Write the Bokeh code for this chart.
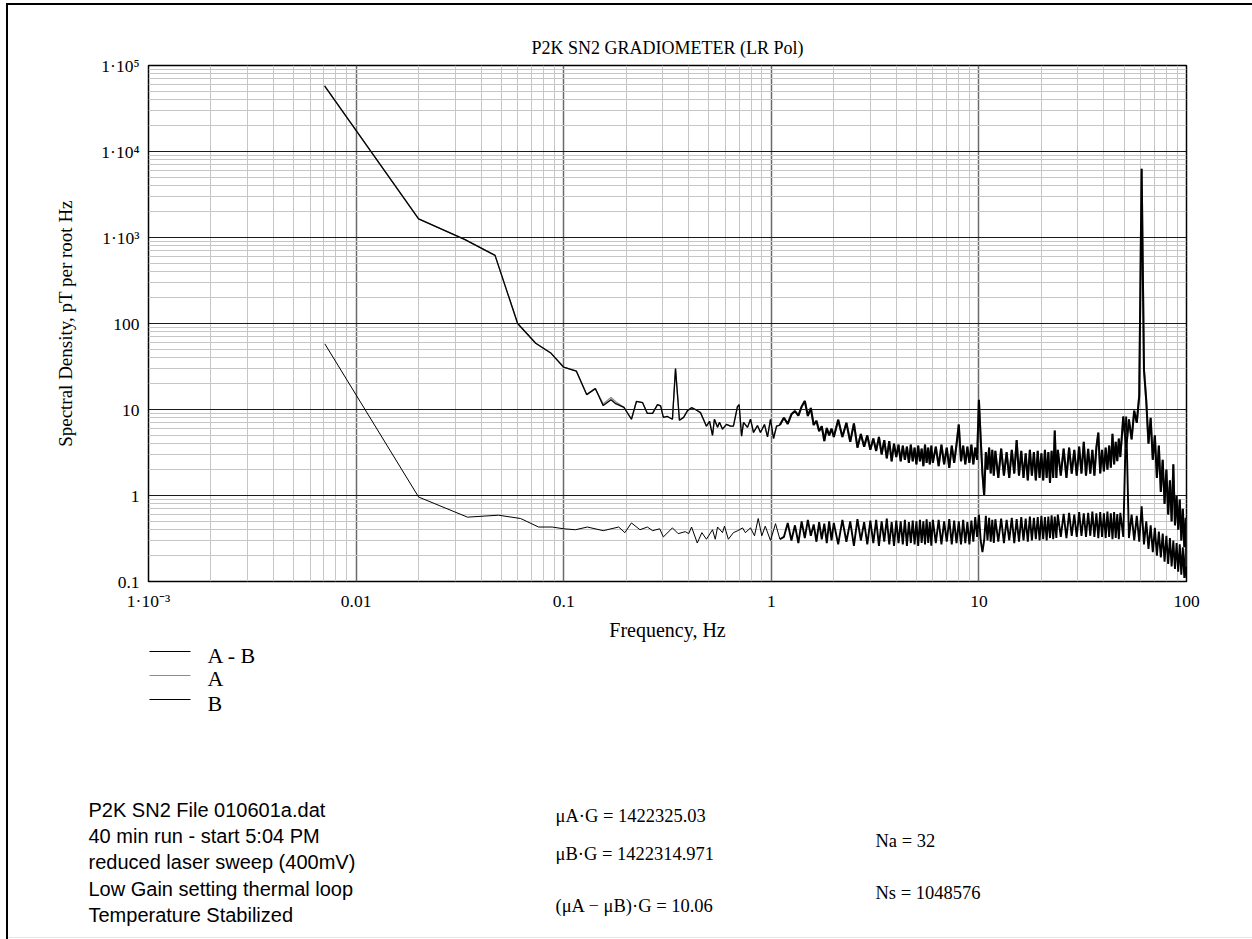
from bokeh.plotting import figure
from bokeh.models import FixedTicker, Range1d, Div, Spacer
from bokeh.layouts import column, row
from bokeh.core.properties import value
from bokeh.embed import file_html
from bokeh.resources import INLINE

# ---------------- data ----------------
# low-frequency part of the single-channel traces (A and B), Hz
top_lo_freq = [0.00705, 0.0200, 0.0333, 0.0467, 0.0600, 0.0733, 0.0870, 0.1000, 0.1150, 0.1290,
               0.1420, 0.1550, 0.1690, 0.1780, 0.1950, 0.2120, 0.2240, 0.2400, 0.2530, 0.2680,
               0.2830, 0.2930, 0.3020, 0.3160, 0.3340, 0.3456, 0.3610, 0.3780, 0.3950, 0.4130,
               0.4310, 0.4560, 0.4710, 0.4870, 0.5040, 0.5210, 0.5320, 0.5510, 0.5630, 0.5820,
               0.6080, 0.6360, 0.6570, 0.6870, 0.7000, 0.7190, 0.7350, 0.7680, 0.7940, 0.8210,
               0.8580, 0.8870, 0.9270, 0.9590, 0.9910, 1.0250, 1.0600, 1.1000]
b_lo = [58000, 1650, 950, 620, 100, 59, 45, 31, 28, 14.9,
        17.5, 11.1, 13.0, 11.7, 10.6, 7.7, 12.4, 12.0, 9.0, 9.0,
        11.4, 11.0, 8.1, 8.3, 7.7, 30, 7.5, 8.1, 9.7, 10.5,
        10.0, 9.2, 7.7, 6.4, 7.3, 5.0, 7.7, 6.2, 7.1, 5.9,
        6.7, 6.4, 6.4, 10.8, 11.4, 4.9, 7.1, 6.2, 7.7, 5.4,
        6.5, 5.4, 6.7, 4.8, 7.7, 4.6, 6.4, 6.6]
a_lo = [58000, 1650, 950, 620, 100, 59, 45, 31, 28, 14.9,
        17.5, 11.6, 13.8, 12.3, 10.6, 7.7, 12.4, 12.0, 9.0, 9.0,
        11.4, 11.0, 8.1, 8.3, 7.7, 30, 7.5, 8.1, 9.7, 10.5,
        10.0, 9.2, 7.7, 6.4, 7.3, 5.0, 7.7, 6.2, 7.1, 5.9,
        6.7, 6.4, 6.4, 10.8, 11.4, 4.9, 7.1, 6.2, 7.7, 5.4,
        6.5, 5.4, 6.7, 4.8, 7.7, 4.6, 6.4, 6.6]

# low-frequency part of the difference trace (A - B), Hz
ab_lo_freq = [0.00707, 0.0200, 0.0344, 0.0485, 0.0620, 0.0757, 0.0880, 0.1000, 0.1140, 0.1300,
              0.1550, 0.1840, 0.1970, 0.2120, 0.2330, 0.2530, 0.2680, 0.2900, 0.3020, 0.3340,
              0.3560, 0.3850, 0.4000, 0.4130, 0.4400, 0.4630, 0.4870, 0.5210, 0.5370, 0.5510,
              0.5820, 0.5950, 0.6210, 0.6570, 0.6900, 0.7270, 0.7500, 0.7940, 0.8300, 0.8650,
              0.9000, 0.9350, 0.9910, 1.0480, 1.1000]
ab_lo = [58, 0.96, 0.56, 0.59, 0.54, 0.43, 0.43, 0.41, 0.40, 0.43,
         0.39, 0.43, 0.37, 0.48, 0.40, 0.43, 0.39, 0.41, 0.33, 0.42,
         0.36, 0.38, 0.36, 0.43, 0.28, 0.37, 0.31, 0.40, 0.31, 0.43,
         0.37, 0.44, 0.31, 0.37, 0.39, 0.42, 0.37, 0.42, 0.34, 0.54,
         0.34, 0.44, 0.30, 0.47, 0.31]

# higher-frequency bins shared by all traces, Hz
hf_freq_1 = [1.15, 1.20, 1.25, 1.30, 1.35, 1.40, 1.45, 1.50, 1.55, 1.60, 1.65, 1.70, 1.75, 1.80,
             1.85, 1.90, 1.95, 2.00]
hf_freq_2 = [2.1, 2.2, 2.3, 2.4, 2.5, 2.6, 2.7, 2.8, 2.9, 3.0, 3.1, 3.2, 3.3, 3.4, 3.5, 3.6, 3.7,
             3.8, 3.9, 4.0, 4.1, 4.2, 4.3, 4.4, 4.5, 4.6, 4.7, 4.8, 4.9, 5.0, 5.1, 5.2, 5.3, 5.4,
             5.5, 5.6, 5.7, 5.8, 5.9, 6.0]
hf_freq_3 = [6.2, 6.4, 6.6, 6.8, 7.0, 7.2, 7.4, 7.6, 7.8, 8.0, 8.2, 8.4, 8.6, 8.8, 9.0, 9.2, 9.4,
             9.6, 9.8, 10.0, 10.2, 10.4, 10.6, 10.8, 11.0, 11.2, 11.4, 11.6, 11.8, 12.0]
hf_freq_4 = [12.4, 12.8, 13.2, 13.6, 14.0, 14.4, 14.8, 15.2, 15.6, 16.0, 16.4, 16.8, 17.2, 17.6,
             18.0, 18.4, 18.8, 19.2, 19.6, 20.0, 20.4, 20.8, 21.2, 21.6, 22.0, 22.4, 22.8, 23.2,
             23.6, 24.0]
hf_freq_5 = [24.8, 25.6, 26.4, 27.2, 28.0, 28.8, 29.6, 30.4, 31.2, 32.0, 32.8, 33.6, 34.4, 35.2,
             36.0, 36.8, 37.6, 38.4, 39.2, 40.0, 40.8, 41.6, 42.4, 43.2, 44.0, 44.8, 45.6, 46.4,
             47.2, 48.0]
hf_freq_6 = [49.6, 51.2, 52.8, 54.4, 56.0, 57.6, 59.2, 60.8, 62.4, 64.0, 65.6, 67.2, 68.8, 70.4,
             72.0, 73.6, 75.2, 76.8, 78.4, 80.0, 81.6, 83.2, 84.8, 86.4, 88.0, 89.6, 91.2, 92.8,
             94.4, 96.0, 97.6, 99.2, 100.0]

# single-channel trace (B) at those bins, pT/rtHz
b_hf_1 = [8.0, 6.8, 8.8, 9.6, 8.5, 10.8, 12.6, 8.4, 10.4, 6.6, 7.4, 5.6, 6.4, 4.3, 6.1, 5.0, 6.0, 4.8]
b_hf_2 = [7.6, 4.8, 7.0, 4.2, 6.9, 3.6, 5.2, 3.7, 5.0, 3.4, 4.6, 3.3, 4.8, 3.0, 4.4, 2.7, 4.3,
          2.5, 4.0, 2.8, 3.9, 2.5, 3.8, 2.6, 3.7, 2.4, 3.9, 2.5, 3.6, 2.3, 3.8, 2.5, 3.5, 2.2,
          3.9, 2.4, 3.6, 2.3, 3.8, 2.4]
b_hf_3 = [3.7, 2.2, 3.9, 2.3, 3.6, 2.1, 3.8, 2.4, 3.9, 6.7, 2.5, 3.8, 2.3, 3.7, 2.4, 3.9, 2.3,
          3.6, 2.6, 13.0, 4.6, 1.8, 1.0, 3.2, 2.0, 3.6, 1.8, 3.4, 1.7, 3.3]
b_hf_4 = [1.6, 3.5, 1.7, 3.2, 1.6, 3.4, 1.8, 4.4, 1.7, 3.3, 1.6, 3.1, 1.5, 3.4, 1.7, 3.2, 1.5,
          3.3, 1.6, 3.1, 1.5, 3.4, 1.6, 3.2, 1.4, 3.3, 1.6, 5.7, 1.6, 3.4]
b_hf_5 = [1.7, 3.5, 1.6, 3.6, 1.8, 3.4, 1.7, 3.7, 1.8, 4.2, 1.7, 3.5, 1.8, 3.4, 1.7, 3.6, 5.4,
          1.8, 3.4, 1.9, 3.6, 2.0, 3.8, 2.1, 5.2, 2.3, 4.2, 2.5, 4.6, 2.8]
b_hf_6 = [8.3, 3.5, 7.7, 4.5, 9.7, 7.0, 14.5, 6300, 29, 12.6, 4.0, 8.0, 2.6, 5.0, 1.6, 3.8, 1.1,
          2.6, 0.8, 2.0, 0.6, 1.5, 0.5, 2.3, 0.45, 1.0, 0.4, 0.9, 0.3, 0.7, 0.25, 0.55, 0.15]
# channel A reads identically to B at these bins (fully hidden under B in the picture)
a_hf_1, a_hf_2, a_hf_3, a_hf_4, a_hf_5, a_hf_6 = b_hf_1, b_hf_2, b_hf_3, b_hf_4, b_hf_5, b_hf_6

# difference trace (A - B) at those bins
ab_hf_1 = [0.33, 0.48, 0.30, 0.45, 0.28, 0.50, 0.32, 0.52, 0.34, 0.46, 0.29, 0.49, 0.31, 0.47,
           0.28, 0.50, 0.30, 0.48]
ab_hf_2 = [0.27, 0.52, 0.29, 0.50, 0.26, 0.53, 0.30, 0.49, 0.27, 0.51,
           0.28, 0.52, 0.26, 0.50, 0.29, 0.54, 0.27, 0.49, 0.26, 0.51,
           0.28, 0.50, 0.27, 0.52, 0.26, 0.49, 0.28, 0.51, 0.27, 0.50,
           0.26, 0.52, 0.28, 0.50, 0.27, 0.53, 0.28, 0.49, 0.26, 0.52]
ab_hf_3 = [0.28, 0.52, 0.27, 0.50, 0.29, 0.53, 0.27, 0.51, 0.28, 0.50, 0.27, 0.52, 0.28, 0.49,
           0.27, 0.51, 0.29, 0.56, 0.33, 0.60, 0.30, 0.22, 0.30, 0.58, 0.30, 0.55, 0.29, 0.52,
           0.28, 0.53]
ab_hf_4 = [0.29, 0.54, 0.28, 0.52, 0.30, 0.55, 0.28, 0.53, 0.29, 0.56, 0.30, 0.54, 0.29, 0.57,
           0.30, 0.55, 0.31, 0.56, 0.30, 0.58, 0.31, 0.56, 0.30, 0.57, 0.32, 0.59, 0.31, 0.57,
           0.32, 0.60]
ab_hf_5 = [0.33, 0.61, 0.32, 0.63, 0.34, 0.60, 0.33, 0.64, 0.34, 0.62, 0.33, 0.63, 0.34, 0.65,
           0.33, 0.62, 0.32, 0.64, 0.33, 0.62, 0.32, 0.65, 0.33, 0.62, 0.31, 0.64, 0.32, 0.61,
           0.31, 0.63]
ab_hf_6 = [0.33, 8.3, 0.32, 0.60, 0.30, 0.58, 0.29, 0.75, 0.27, 0.50, 0.24, 0.45, 0.22, 0.42,
           0.20, 0.38, 0.19, 0.36, 0.17, 0.34, 0.16, 0.32, 0.15, 0.30, 0.14, 0.28, 0.13, 0.27,
           0.12, 0.25, 0.11, 0.24, 0.11]

x_ticks = [1e-3, 1e-2, 1e-1, 1, 10, 100]
x_tick_labels = ["1·10⁻³", "0.01", "0.1", "1", "10", "100"]
y_ticks = [0.1, 1, 10, 100, 1e3, 1e4, 1e5]
y_tick_labels = ["0.1", "1", "10", "100", "1·10³", "1·10⁴", "1·10⁵"]
series_names = ["A - B", "A", "B"]
series_colors = ["black", "#8c8c8c", "black"]

note_lines = ["P2K SN2 File 010601a.dat", "40 min run - start 5:04 PM",
              "reduced laser sweep (400mV)", "Low Gain setting thermal loop",
              "Temperature Stabilized"]
stat_lines = ["μA·G = 1422325.03", "μB·G = 1422314.971", "(μA − μB)·G = 10.06"]
count_lines = ["Na = 32", "Ns = 1048576"]

# ---------------- assemble ----------------
hf_freq = hf_freq_1 + hf_freq_2 + hf_freq_3 + hf_freq_4 + hf_freq_5 + hf_freq_6
b_hf = b_hf_1 + b_hf_2 + b_hf_3 + b_hf_4 + b_hf_5 + b_hf_6
a_hf = a_hf_1 + a_hf_2 + a_hf_3 + a_hf_4 + a_hf_5 + a_hf_6
ab_hf = ab_hf_1 + ab_hf_2 + ab_hf_3 + ab_hf_4 + ab_hf_5 + ab_hf_6

SERIF = "Liberation Serif"
SANS = "Liberation Sans"

# page geometry (absolute pixels of the 1252 x 939 page)
PAGE_W, PAGE_H = 1252, 939
OX, OY = 8, 5            # where the figures start (inside the page rules)
SPLIT = 643              # boundary between chart figure and notes figure
FX0, FX1, FY0, FY1 = 148, 1186, 65, 586   # plot frame

W1, H1 = PAGE_W - OX, SPLIT - OY
p = figure(width=W1, height=H1, x_axis_type="log", y_axis_type="log",
           x_range=Range1d(1e-3, 100), y_range=Range1d(0.1, 1e5),
           output_backend="svg", toolbar_location=None,
           min_border_left=FX0 - OX, min_border_right=W1 - (FX1 - OX),
           min_border_top=FY0 - OY, min_border_bottom=H1 - (FY1 - OY))
p.background_fill_color = "white"
p.border_fill_color = "white"
p.outline_line_color = "black"
p.outline_line_width = 1.5

p.title.text = "P2K SN2 GRADIOMETER (LR Pol)"
p.title.align = "center"
p.title.text_font = SERIF
p.title.text_font_size = "18px"
p.title.text_font_style = "normal"
p.title.text_color = "black"
p.title.standoff = 16

x_minor = [m * 10.0 ** e for e in range(-3, 2) for m in range(2, 10)]
y_minor = [m * 10.0 ** e for e in range(-1, 5) for m in range(2, 10)]
xt = FixedTicker(ticks=x_ticks, minor_ticks=x_minor)
yt = FixedTicker(ticks=y_ticks, minor_ticks=y_minor)
p.xaxis.ticker = xt
p.yaxis.ticker = yt
p.xgrid.ticker = xt
p.ygrid.ticker = yt
p.xaxis.major_label_overrides = dict(zip(x_ticks, x_tick_labels))
p.yaxis.major_label_overrides = dict(zip(y_ticks, y_tick_labels))

for ax in (p.xaxis[0], p.yaxis[0]):
    ax.axis_line_color = None
    ax.major_tick_line_color = None
    ax.minor_tick_line_color = None
    ax.major_tick_out = 0
    ax.major_tick_in = 0
    ax.minor_tick_out = 0
    ax.minor_tick_in = 0
    ax.major_label_text_font = SERIF
    ax.major_label_text_font_size = "17.5px"
    ax.major_label_text_color = "black"
    ax.axis_label_text_font = SERIF
    ax.axis_label_text_font_style = "normal"
    ax.axis_label_text_color = "black"
p.xaxis.axis_label = "Frequency, Hz"
p.yaxis.axis_label = "Spectral Density, pT per root Hz"
p.xaxis.axis_label_text_font_size = "20px"
p.yaxis.axis_label_text_font_size = "19px"
p.xaxis.major_label_standoff = 9
p.xaxis.axis_label_standoff = 5
p.yaxis.major_label_standoff = 9
p.yaxis.axis_label_standoff = 22

p.xgrid.grid_line_color = "#6a6a6a"
p.xgrid.grid_line_width = 1.5
p.ygrid.grid_line_color = "#1a1a1a"
p.ygrid.grid_line_width = 1
p.xgrid.minor_grid_line_color = "#c6c6c6"
p.ygrid.minor_grid_line_color = "#c6c6c6"
p.xgrid.minor_grid_line_width = 1
p.ygrid.minor_grid_line_width = 1

# A - B: thin at low frequency, dense noise band above 1 Hz
p.line(ab_lo_freq, ab_lo, line_color=series_colors[0], line_width=1.0)
p.line(ab_lo_freq[-1:] + hf_freq, ab_lo[-1:] + ab_hf, line_color=series_colors[0], line_width=1.9)
# A (grey) underneath B (black)
p.line(top_lo_freq, a_lo, line_color=series_colors[1], line_width=1.3)
p.line(top_lo_freq[-1:] + hf_freq, a_lo[-1:] + a_hf, line_color=series_colors[1], line_width=2.0)
p.line(top_lo_freq, b_lo, line_color=series_colors[2], line_width=1.3)
p.line(top_lo_freq[-1:] + hf_freq, b_lo[-1:] + b_hf, line_color=series_colors[2], line_width=2.0)

# ---------------- notes figure (pixel coordinates of the page) ----------------
H2 = PAGE_H - SPLIT
q = figure(width=W1, height=H2, x_range=Range1d(OX, PAGE_W), y_range=Range1d(PAGE_H, SPLIT),
           x_axis_location=None, y_axis_location=None,
           output_backend="svg", toolbar_location=None,
           min_border_left=0, min_border_right=0, min_border_top=0, min_border_bottom=0)
q.outline_line_color = None
q.grid.visible = False
q.background_fill_color = "white"
q.border_fill_color = "white"

# legend
leg_y = [651, 675, 699]
q.segment(x0=[149] * 3, y0=leg_y, x1=[190] * 3, y1=leg_y, line_color=series_colors, line_width=1.2)
q.text(x=[207] * 3, y=[654.5, 678, 702.5], text=series_names, text_font=value(SERIF),
       text_font_size=value("22px"), text_color="black", text_baseline=value("middle"),
       text_align=value("left"))

q.text(x=[88] * 5, y=[809.5, 835.5, 861.5, 888, 914.5], text=note_lines, text_font=value(SANS),
       text_font_size=value("20px"), text_color="black", text_baseline=value("middle"),
       text_align=value("left"))
q.text(x=[555] * 3, y=[815, 853, 905], text=stat_lines, text_font=value(SERIF),
       text_font_size=value("18.5px"), text_color="black", text_baseline=value("middle"),
       text_align=value("left"))
q.text(x=[875] * 2, y=[840, 892], text=count_lines, text_font=value(SERIF),
       text_font_size=value("18.5px"), text_color="black", text_baseline=value("middle"),
       text_align=value("left"))
# faint bottom rule of the page
q.segment(x0=[OX], y0=[937], x1=[PAGE_W], y1=[937], line_color="#e6e6e6", line_width=1)

# ---------------- page rules (top and left) ----------------
def black_bar(w, h):
    return Div(text="", width=w, height=h, margin=0, styles={"background-color": "black"})


root = column(
    Spacer(width=PAGE_W, height=3, margin=0),
    row(Spacer(width=6, height=2, margin=0), black_bar(PAGE_W - 6, 2)),
    row(Spacer(width=6, height=H1, margin=0), black_bar(2, H1), p),
    row(Spacer(width=6, height=H2, margin=0), black_bar(2, H2), q),
)

open("out.html", "w").write(file_html(root, INLINE))
